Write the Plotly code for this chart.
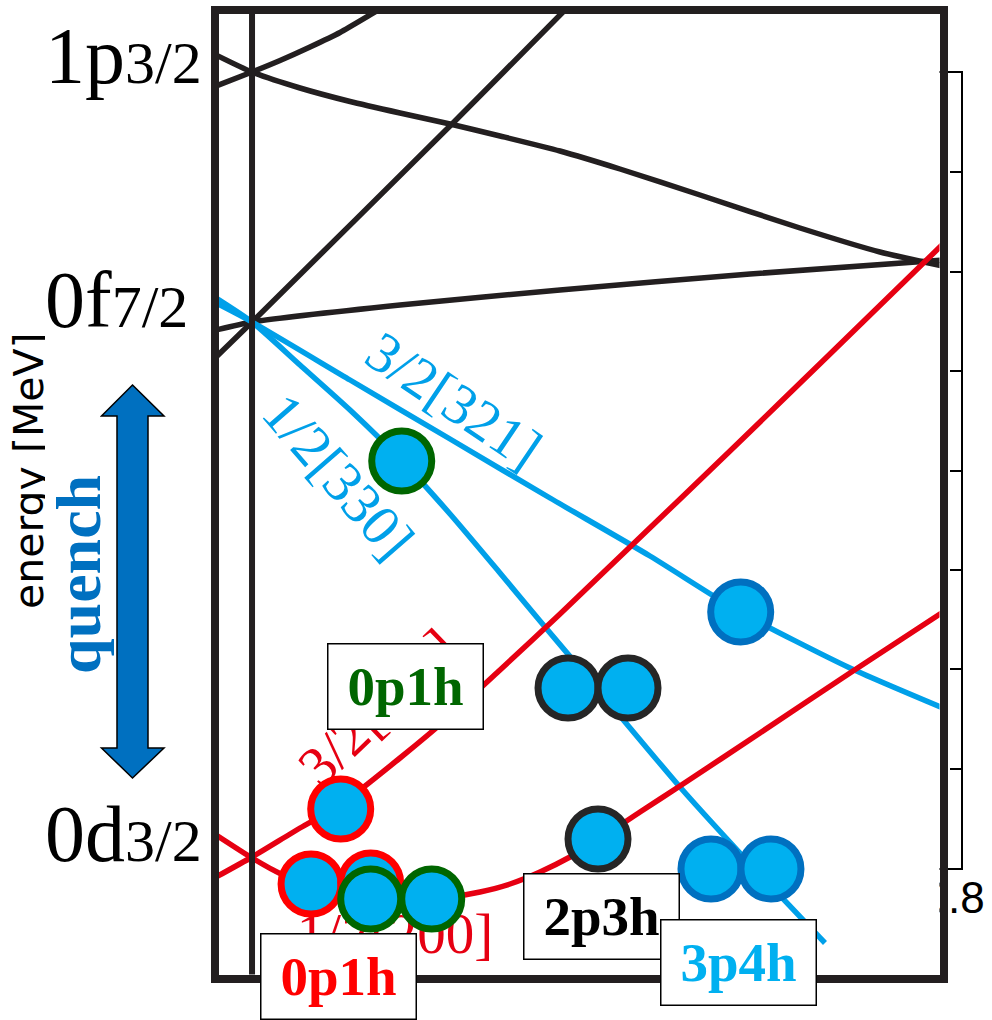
import plotly.graph_objects as go

W, H = 992, 1020

# ---- Nilsson orbits: deformation beta vs single-particle energy (MeV) ----
beta_p32_a = [-0.0416, 0.0, 0.0555, 0.1134, 0.1712, 0.2291, 0.2869, 0.3563, 0.4257, 0.5183, 0.6340, 0.7265, 0.7994]
e_p32_a = [-0.33, -0.50, -0.66, -0.795, -0.91, -1.02, -1.14, -1.29, -1.47, -1.73, -2.06, -2.30, -2.44]

beta_p32_b = [-0.0416, 0.0, 0.0324, 0.0671, 0.1018, 0.1365, 0.1712]
e_p32_b = [-0.64, -0.50, -0.385, -0.25, -0.105, 0.07, 0.25]

beta_f72_up = [-0.0416, 0.0, 0.2325, 0.3586, 0.3794]
e_f72_up = [-3.35, -3.00, -1.01, 0.09, 0.27]

beta_f72_flat = [-0.0416, 0.0, 0.1712, 0.3563, 0.5761, 0.7994]
e_f72_flat = [-3.08, -3.00, -2.83, -2.68, -2.52, -2.38]

beta_321 = [-0.0416, 0.0, 0.1134, 0.2291, 0.3447, 0.4604, 0.5645, 0.6918, 0.7994]
e_321 = [-2.81, -3.00, -3.58, -4.17, -4.76, -5.34, -5.90, -6.46, -6.86]

beta_330 = [-0.0416, 0.0, 0.0555, 0.1134, 0.1724, 0.2291, 0.2869, 0.3332, 0.4026, 0.4951, 0.5645, 0.6629]
e_330 = [-2.76, -3.00, -3.43, -3.88, -4.38, -4.92, -5.51, -5.99, -6.70, -7.65, -8.31, -9.21]

beta_202 = [-0.0416, 0.0, 0.0555, 0.1018, 0.1712, 0.2291, 0.2869, 0.3563, 0.4373, 0.5530, 0.6687, 0.7994]
e_202 = [-8.55, -8.35, -8.06, -7.83, -7.36, -6.94, -6.48, -5.92, -5.25, -4.29, -3.32, -2.22]

beta_200 = [-0.0416, 0.0, 0.0324, 0.0683, 0.1018, 0.1365, 0.1712, 0.1944, 0.2291, 0.2638, 0.2985,
            0.3332, 0.3679, 0.4003, 0.4489, 0.4951, 0.5877, 0.6918, 0.7994]
e_200 = [-8.13, -8.36, -8.515, -8.62, -8.69, -8.74, -8.765, -8.77, -8.75, -8.70, -8.62,
         -8.50, -8.35, -8.18, -7.90, -7.64, -7.11, -6.51, -5.90]

# ---- occupied orbits (neutron configurations) ----
occ_red_beta = [0.1026, 0.0683, 0.1373]
occ_red_e = [-7.87, -8.62, -8.61]
occ_green_beta = [0.1732, 0.1373, 0.2079]
occ_green_e = [-4.39, -8.77, -8.77]
occ_black_beta = [0.3656, 0.4350, 0.4003]
occ_black_e = [-6.66, -6.66, -8.17]
occ_blue_beta = [0.5654, 0.5310, 0.6004]
occ_blue_e = [-5.90, -8.47, -8.47]

# orbit labels: text, beta, energy, angle
orbit_labels = ["3/2[321]", "1/2[330]", "3/2[202]", "1/2[200]"]
orbit_label_beta = [0.2377, 0.1053, 0.1411, 0.1654]
orbit_label_e = [-3.73, -4.50, -6.81, -9.05]
orbit_label_angle = [34, 49, -44, 0]

level_names = ["1p", "0f", "0d"]
level_j = ["3/2", "7/2", "3/2"]
config_labels = ["0p1h", "0p1h", "2p3h", "3p4h"]

back_ticks = list(range(9))
back_tick_label = "0.8"

BLACK = "#231F20"
BLUE_LINE = "#00A0E9"
RED_LINE = "#E60012"
FILL = "#00B0F0"
GREEN = "#006600"
RED = "#FF0000"
DARK_BLUE = "#0070C0"
SERIF = "Liberation Serif, Times New Roman, serif"
SANS = "DejaVu Sans, sans-serif"


def px(x):
    return x / W


def py(y):
    return 1 - y / H


fig = go.Figure()

# back panel (energy scale of the underlying diagram); only its frame edge shows
fig.add_trace(go.Scatter(
    x=[0.8], y=[4], mode="lines", line=dict(width=0),
    xaxis="x", yaxis="y", showlegend=False, hoverinfo="skip"))

# front panel: orbits
orbits = [
    (beta_p32_a, e_p32_a, BLACK),
    (beta_p32_b, e_p32_b, BLACK),
    (beta_f72_up, e_f72_up, BLACK),
    (beta_f72_flat, e_f72_flat, BLACK),
    (beta_321, e_321, BLUE_LINE),
    (beta_330, e_330, BLUE_LINE),
    (beta_202, e_202, RED_LINE),
    (beta_200, e_200, RED_LINE),
]
for b, e, c in orbits:
    fig.add_trace(go.Scatter(
        x=b, y=e, mode="lines",
        line=dict(color=c, width=5.5, shape="spline", smoothing=0.6),
        xaxis="x2", yaxis="y2", showlegend=False, hoverinfo="skip"))

# spherical limit
fig.add_trace(go.Scatter(
    x=[0, 0], y=[-9.7, 0.3], mode="lines", line=dict(color=BLACK, width=6),
    xaxis="x2", yaxis="y2", showlegend=False, hoverinfo="skip"))

for b, e, edge in [
    (occ_red_beta, occ_red_e, RED),
    (occ_green_beta, occ_green_e, GREEN),
    (occ_black_beta, occ_black_e, "#262626"),
    (occ_blue_beta, occ_blue_e, DARK_BLUE),
]:
    fig.add_trace(go.Scatter(
        x=b, y=e, mode="markers",
        marker=dict(size=60, color=FILL, line=dict(color=edge, width=7)),
        xaxis="x2", yaxis="y2", showlegend=False, hoverinfo="skip"))

shapes = []
for txt, b, e, ang in zip(orbit_labels, orbit_label_beta, orbit_label_e, orbit_label_angle):
    col = BLUE_LINE if "[3" in txt else RED_LINE
    shapes.append(dict(
        type="rect", xref="x2", yref="y2",
        x0=b - 0.001, x1=b + 0.001, y0=e - 0.01, y1=e + 0.01,
        line=dict(width=0, color="rgba(0,0,0,0)"), fillcolor="rgba(0,0,0,0)",
        layer="below",
        label=dict(text=txt, textangle=ang, textposition="middle center", padding=0,
                   font=dict(family=SERIF, size=57, color=col))))

# quench arrow
arrow = [(132.5, 385), (164, 416), (148, 416), (148, 748), (164, 748), (132.5, 778),
         (101.5, 748), (117, 748), (117, 416), (101.5, 416)]
path = "M " + " L ".join(f"{px(x):.5f},{py(y):.5f}" for x, y in arrow) + " Z"
shapes.append(dict(type="path", xref="paper", yref="paper", path=path,
                   fillcolor=DARK_BLUE, line=dict(color="black", width=1.5), layer="above"))

ann = []
# level labels
for name, j, xr, ymid in zip(level_names, level_j, [204, 190, 204], [56, 300, 834]):
    ann.append(dict(
        text=f'{name}<span style="font-size:60px">{j}</span>',
        x=px(xr), y=py(ymid), xref="paper", yref="paper",
        xanchor="right", yanchor="middle", showarrow=False,
        font=dict(family=SERIF, size=80, color="black")))

ann.append(dict(text="energy [MeV]", x=px(29), y=py(471), xref="paper", yref="paper",
                textangle=-90, showarrow=False, xanchor="center", yanchor="middle",
                font=dict(family=SANS, size=41, color="black")))
ann.append(dict(text=" ", x=px(72.5), y=py(522), xref="paper", yref="paper",
                width=55, height=380, bgcolor="white", borderpad=0, borderwidth=0,
                showarrow=False, xanchor="center", yanchor="middle"))
ann.append(dict(text="<b>quench</b>", x=px(78), y=py(575), xref="paper", yref="paper",
                textangle=-90, showarrow=False, xanchor="center", yanchor="middle",
                font=dict(family=SERIF, size=64, color=DARK_BLUE)))

box_centers = [(405, 686), (338, 976.5), (601, 916.5), (738, 962)]
box_colors = [GREEN, RED, "black", FILL]
for txt, (cx, cy), col in zip(config_labels, box_centers, box_colors):
    ann.append(dict(
        text=f"<b>{txt}</b>", x=px(cx), y=py(cy), xref="paper", yref="paper",
        width=154, height=84, bgcolor="white", bordercolor="black",
        borderwidth=1.5, borderpad=0, showarrow=False,
        xanchor="center", yanchor="middle",
        font=dict(family=SERIF, size=55, color=col)))

fig.update_layout(
    width=W, height=H, autosize=False,
    margin=dict(l=0, r=0, t=0, b=0, autoexpand=False),
    paper_bgcolor="white", plot_bgcolor="white",
    showlegend=False,
    shapes=shapes, annotations=ann,
    xaxis=dict(domain=[px(400), px(961)], range=[0, 0.81], anchor="y",
               showline=True, mirror=True, linewidth=2, linecolor="black",
               ticks="", showticklabels=True, tickvals=[0.8], ticktext=[back_tick_label],
               tickfont=dict(family="Liberation Sans, Arial, sans-serif", size=44, color="black"),
               ticklabelstandoff=-10, automargin=False,
               showgrid=False, zeroline=False),
    yaxis=dict(domain=[py(868), py(73)], range=[0, 8], anchor="x", side="right",
               showline=True, linewidth=2, linecolor="black",
               ticks="inside", ticklen=11, tickwidth=2, tickcolor="black",
               tickvals=back_ticks, showticklabels=False, automargin=False,
               showgrid=False, zeroline=False),
    xaxis2=dict(domain=[px(218.5), px(939.5)], range=[-0.0388, 0.7954], anchor="y2",
                showline=True, mirror=True, linewidth=7.5, linecolor=BLACK,
                ticks="", showticklabels=False, showgrid=False, zeroline=False,
                automargin=False),
    yaxis2=dict(domain=[py(974.5), py(13.5)], range=[-9.525, 0.085], anchor="x2",
                showline=True, mirror=True, linewidth=7.5, linecolor=BLACK,
                ticks="", showticklabels=False, showgrid=False, zeroline=False,
                automargin=False),
)

fig.write_html("out.html")
